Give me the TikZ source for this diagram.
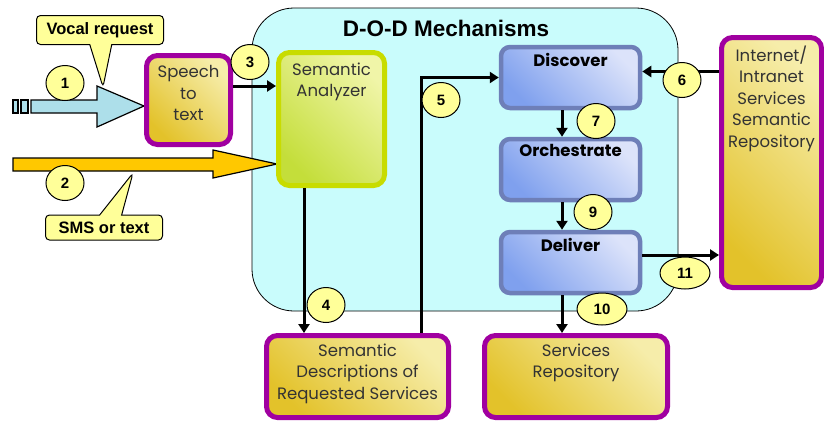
\documentclass[tikz,border=0pt]{standalone}
\usepackage{fontspec}
\setmainfont{Poppins}
\newfontfamily\arialfont{Liberation Sans}
\usetikzlibrary{arrows.meta,shapes.geometric,shapes.callouts}
\definecolor{cyanbg}{HTML}{C9FCFC}
\definecolor{purp}{HTML}{A000A0}
\definecolor{golddark}{HTML}{E3C22A}
\definecolor{goldlight}{HTML}{F6EDAA}
\definecolor{limeedge}{HTML}{C8DC00}
\definecolor{limedark}{HTML}{C4DE3A}
\definecolor{limelight}{HTML}{F0F5A8}
\definecolor{slate}{HTML}{6E7FB8}
\definecolor{bluedark}{HTML}{7FA0EE}
\definecolor{bluelight}{HTML}{DCE3FA}
\definecolor{pale}{HTML}{FFFF99}
\definecolor{skyarrow}{HTML}{ADDFEA}
\definecolor{orangearrow}{HTML}{FFC800}
\definecolor{txt}{HTML}{333333}
\begin{document}
\begin{tikzpicture}[x=1pt,y=-1pt,
  store/.style={draw=purp,line width=5pt,rounded corners=11pt,
    bottom color=golddark,top color=goldlight,shading angle=-45},
  mech/.style={draw=slate,line width=4.5pt,rounded corners=9pt,
    bottom color=bluedark,top color=bluelight,shading angle=-45,
    minimum width=139,minimum height=61},
  boxtext/.style={anchor=north,yshift=#1,font=\fontsize{16.5}{21.5}\selectfont,
    text=txt,align=center},
  boxtext/.default=-7pt,
  mechtext/.style={anchor=north,yshift=-4.5pt,font=\fontsize{16.5}{17}\selectfont\bfseries},
  num/.style={ellipse,draw,line width=1pt,fill=pale,minimum width=38,
    minimum height=35,inner sep=0pt,font=\arialfont\fontsize{15}{15}\selectfont\bfseries},
  callbox/.style={rectangle callout,draw,line width=1pt,fill=pale,rounded corners=4pt,
    callout pointer width=22pt,font=\arialfont\fontsize{16.5}{16.5}\selectfont\bfseries},
  conn/.style={line width=3pt,-{Triangle[length=9pt,width=11pt]}},
  block/.style={draw,line width=1.2pt,fill=#1}]
\useasboundingbox (0,0) rectangle (824,421);
\node[draw,line width=0.8pt,fill=cyanbg,rounded corners=42pt,
  minimum width=426,minimum height=303] (dod) at (465,159.5) {};
\node[font=\arialfont\fontsize{22.5}{22.5}\selectfont\bfseries] (title) at (446,28) {D-O-D Mechanisms};
\fill[block=orangearrow] (13,158) -- (213,158) -- (213,150) -- (277,164)
  -- (213,178) -- (213,171) -- (13,171) -- cycle;
\fill[block=skyarrow] (31,100) -- (97,100) -- (97,86) -- (144,106)
  -- (97,127) -- (97,113) -- (31,113) -- cycle;
\fill[block=skyarrow] (13,100) rectangle (18,113);
\fill[block=skyarrow] (21,100) rectangle (28,113);
\coordinate (vtip) at (103,87);
\coordinate (stip) at (133,173);
\node[callbox,callout absolute pointer=(vtip),minimum width=127,minimum height=29] (vocal) at (100,30) {Vocal request};
\node[callbox,callout absolute pointer=(stip),minimum width=117,minimum height=25] (sms) at (104,227.5) {SMS or text};
\node[store,minimum width=84,minimum height=89,
  label={[boxtext=-9pt]north:Speech\\to\\text}] (speech) at (188.5,100) {};
\node[draw=limeedge,line width=5pt,rounded corners=11pt,
  bottom color=limedark,top color=limelight,shading angle=-45,
  minimum width=106,minimum height=133,
  label={[boxtext=-9pt]north:Semantic\\Analyzer}] (sa) at (331.5,119) {};
\node[mech,label={[mechtext]north:Discover}] (discover) at (570.5,77.5) {};
\node[mech,label={[mechtext]north:Orchestrate}] (orch) at (570.5,169.5) {};
\node[mech,label={[mechtext]north:Deliver}] (deliver) at (570.5,262.5) {};
\node[store,minimum width=100,minimum height=250,
  label={[boxtext]north:Internet/\\Intranet\\Services\\Semantic\\Repository}] (inet) at (771.5,162.5) {};
\node[store,minimum width=182,minimum height=82,
  label={[boxtext]north:Semantic\\Descriptions of\\Requested Services}] (desc) at (357.5,376.5) {};
\node[store,minimum width=183,minimum height=82,
  label={[boxtext]north:Services\\Repository}] (repo) at (576,376.5) {};
\coordinate (d3) at ([yshift=14pt]speech.east);
\coordinate (d6) at ([yshift=6pt]discover.east);
\coordinate (d11) at ([yshift=7.5pt]deliver.east);
\draw[conn] (d3) -- (sa.west |- d3);
\draw[conn] ([xshift=-27.5pt]sa.south) -- ([xshift=-27.5pt]sa.south |- desc.north);
\draw[conn] ([xshift=63.5pt]desc.north) |- (discover.west);
\draw[conn] (inet.west |- d6) -- (d6);
\draw[conn] ([xshift=-8.5pt]discover.south) -- ([xshift=-8.5pt]orch.north);
\draw[conn] ([xshift=-8.5pt]orch.south) -- ([xshift=-8.5pt]deliver.north);
\draw[conn] ([xshift=-8.5pt]deliver.south) -- ([xshift=-8.5pt]deliver.south |- repo.north);
\draw[conn] (d11) -- (inet.west |- d11);
\node[num] (n1) at (65,83) {1};
\node[num] (n2) at (65,183) {2};
\node[num] (n3) at (250,62) {3};
\node[num] (n4) at (326,305) {4};
\node[num] (n5) at (441,100) {5};
\node[num] (n6) at (682,80) {6};
\node[num] (n7) at (596,121) {7};
\node[num] (n9) at (593,212) {9};
\node[num,minimum width=50,minimum height=32] (n10) at (602,309) {10};
\node[num,minimum width=50,minimum height=32] (n11) at (685,273) {11};
\end{tikzpicture}
\end{document}
